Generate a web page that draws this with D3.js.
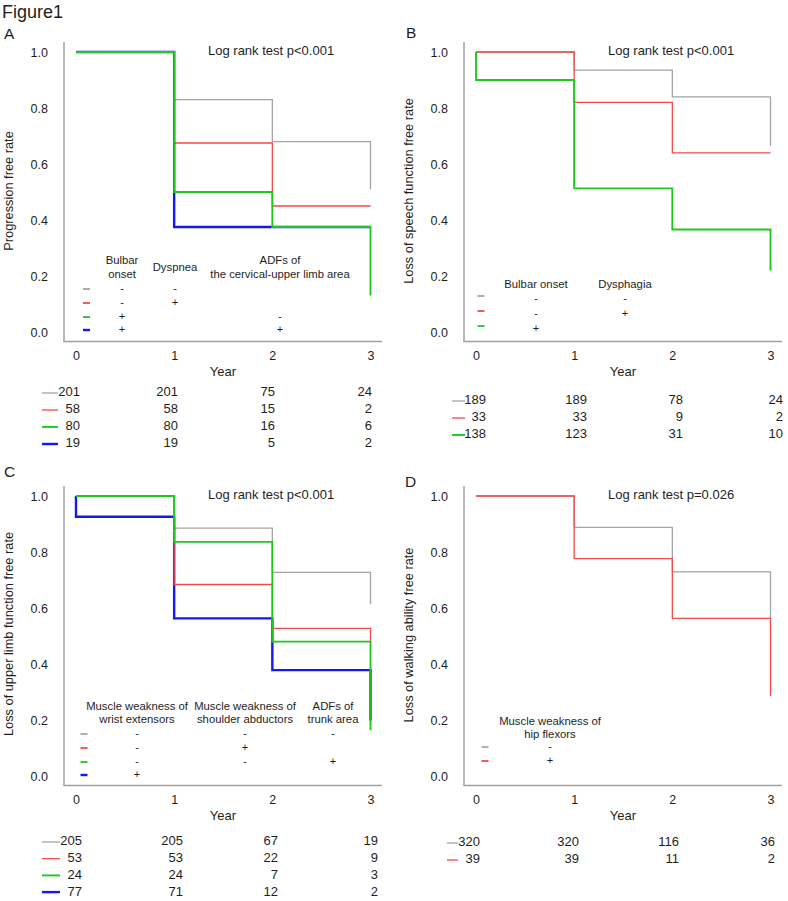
<!DOCTYPE html>
<html>
<head>
<meta charset="utf-8">
<script src="https://cdn.jsdelivr.net/npm/d3@7"></script>
<style>
  html, body { margin: 0; padding: 0; background: #fff; }
  svg { display: block; font-family: "Liberation Sans", Arial, sans-serif; }
</style>
</head>
<body>
<svg id="fig" width="788" height="901"></svg>
<script>
// ---------------- DATA ----------------
const years = [0, 1, 2, 3];
const yTicks = [0, 0.2, 0.4, 0.6, 0.8, 1.0];
const yearLabel = "Year";
const figTitle = "Figure1";

// Panel A
const aYLabel = "Progression free rate";
const aPText = "Log rank test p<0.001";
const aGroups = ["gray", "red", "green", "blue"];
const aSurv = [
  [1.0, 0.83, 0.68, 0.51],
  [1.0, 0.675, 0.45, 0.45],
  [1.0, 0.50, 0.375, 0.13],
  [1.0, 0.375, 0.375, 0.375]
];
const aRisk = [[201, 201, 75, 24], [58, 58, 15, 2], [80, 80, 16, 6], [19, 19, 5, 2]];
const aHeaders = [["Bulbar", "onset"], ["Dyspnea"], ["ADFs of", "the cervical-upper limb area"]];
const aSigns = [["-", "-", ""], ["-", "+", ""], ["+", "", "-"], ["+", "", "+"]];

// Panel B
const bYLabel = "Loss of speech function free rate";
const bPText = "Log rank test p<0.001";
const bGroups = ["gray", "red", "green"];
const bSurv = [
  [1.0, 0.935, 0.84, 0.665],
  [1.0, 0.82, 0.64, 0.64],
  [0.90, 0.513, 0.366, 0.22]
];
const bRisk = [[189, 189, 78, 24], [33, 33, 9, 2], [138, 123, 31, 10]];
const bHeaders = [["Bulbar onset"], ["Dysphagia"]];
const bSigns = [["-", "-"], ["-", "+"], ["+", ""]];

// Panel C
const cYLabel = "Loss of upper limb function free rate";
const cPText = "Log rank test p<0.001";
const cGroups = ["gray", "red", "green", "blue"];
const cSurv = [
  [1.0, 0.885, 0.727, 0.613],
  [1.0, 0.684, 0.527, 0.48],
  [1.0, 0.836, 0.48, 0.163],
  [0.926, 0.563, 0.378, 0.198]
];
const cRisk = [[205, 205, 67, 19], [53, 53, 22, 9], [24, 24, 7, 3], [77, 71, 12, 2]];
const cHeaders = [["Muscle weakness of", "wrist extensors"], ["Muscle weakness of", "shoulder abductors"], ["ADFs of", "trunk area"]];
const cSigns = [["-", "-", "-"], ["-", "+", ""], ["-", "-", "+"], ["+", "", ""]];

// Panel D
const dYLabel = "Loss of walking ability free rate";
const dPText = "Log rank test p=0.026";
const dGroups = ["gray", "red"];
const dSurv = [
  [1.0, 0.888, 0.729, 0.563],
  [1.0, 0.776, 0.563, 0.286]
];
const dRisk = [[320, 320, 116, 36], [39, 39, 11, 2]];
const dHeaders = [["Muscle weakness of", "hip flexors"]];
const dSigns = [["-"], ["+"]];

// ---------------- STYLE ----------------
const COLORS = { gray: "#a4a4a4", red: "#f24a4a", green: "#1fc81f", blue: "#1818ee" };
const WIDTHS = { gray: 1.3, red: 1.3, green: 1.9, blue: 2.4 };
const AXIS = "#a0a0a0";
const TXT = "#1e1e1e";

const svg = d3.select("#fig");

svg.append("text").attr("x", 2).attr("y", 13).attr("dominant-baseline", "middle")
  .attr("font-size", 18).attr("fill", TXT).text(figTitle);

function drawPanel(cfg) {
  const g = svg.append("g").attr("transform", `translate(${cfg.ox},${cfg.oy})`);
  const x = d3.scaleLinear().domain([0, 3]).range([76, 370.5]);
  const y = d3.scaleLinear().domain([0, 1]).range([332, 52]);

  g.append("text").attr("x", cfg.letterX).attr("y", cfg.letterY).attr("dominant-baseline", "middle")
    .attr("font-size", 15.5).attr("fill", TXT).text(cfg.letter);

  g.append("line").attr("x1", 64).attr("x2", 64).attr("y1", 42).attr("y2", 341.5)
    .attr("stroke", AXIS).attr("stroke-width", 1.5);
  g.append("line").attr("x1", 63.25).attr("x2", 382).attr("y1", 341.5).attr("y2", 341.5)
    .attr("stroke", AXIS).attr("stroke-width", 1.5);

  const yAxis = d3.axisLeft(y).tickValues(yTicks).tickFormat(d3.format(".1f")).tickSize(0).tickPadding(0);
  const ya = g.append("g").attr("transform", "translate(48,0)").call(yAxis);
  ya.select(".domain").remove();
  ya.selectAll("text").attr("font-size", 12.5).attr("fill", TXT).attr("font-family", "Liberation Sans, Arial, sans-serif");

  const xAxis = d3.axisBottom(x).tickValues(years).tickFormat(d3.format("d")).tickSize(0).tickPadding(0);
  const xa = g.append("g").attr("transform", "translate(0,351)").call(xAxis);
  xa.select(".domain").remove();
  xa.selectAll("text").attr("font-size", 12.5).attr("fill", TXT).attr("font-family", "Liberation Sans, Arial, sans-serif");

  g.append("text").attr("x", 223).attr("y", 373).attr("text-anchor", "middle").attr("dominant-baseline", "middle")
    .attr("font-size", 13).attr("fill", TXT).text(yearLabel);

  g.append("text").attr("transform", `translate(${10},${cfg.yLabelMid}) rotate(-90)`)
    .attr("text-anchor", "middle").attr("dominant-baseline", "middle")
    .attr("font-size", 12.8).attr("fill", TXT).text(cfg.yLabel);

  g.append("text").attr("x", 208).attr("y", y(1)).attr("dominant-baseline", "middle")
    .attr("font-size", 13).attr("fill", TXT).text(cfg.pText);

  const line = d3.line().x(d => x(d[0])).y(d => y(d[1]));
  cfg.order.forEach(i => {
    const s = cfg.surv[i];
    const pts = [[0, 1.0]];
    let prev = 1.0;
    years.forEach((t, k) => {
      pts.push([t, prev]);
      pts.push([t, s[k]]);
      prev = s[k];
    });
    const grp = cfg.groups[i];
    g.append("path").attr("d", line(pts)).attr("fill", "none")
      .attr("stroke", COLORS[grp]).attr("stroke-width", WIDTHS[grp]);
  });

  const L = cfg.legend;
  cfg.headers.forEach((lines, j) => {
    const n = lines.length;
    lines.forEach((ln, k) => {
      g.append("text").attr("x", L.colX[j]).attr("y", L.headMid + (k - (n - 1) / 2) * 13.5)
        .attr("text-anchor", "middle").attr("dominant-baseline", "middle")
        .attr("font-size", 11.3).attr("fill", TXT).text(ln);
    });
  });
  cfg.signs.forEach((row, r) => {
    const grp = cfg.groups[r];
    const yy = L.rows[r];
    g.append("line").attr("x1", L.dashX - 3.5).attr("x2", L.dashX + 3.5).attr("y1", yy).attr("y2", yy)
      .attr("stroke", COLORS[grp]).attr("stroke-width", grp === "blue" ? 2.4 : 1.8);
    row.forEach((sg, j) => {
      if (!sg) return;
      g.append("text").attr("x", L.colX[j]).attr("y", yy + L.signDy)
        .attr("text-anchor", "middle").attr("dominant-baseline", "middle")
        .attr("font-size", 11).attr("fill", TXT).text(sg);
    });
  });

  const T = cfg.table;
  cfg.risk.forEach((row, r) => {
    const grp = cfg.groups[r];
    const yy = T.y0 + r * T.dy;
    g.append("line").attr("x1", T.dash[0]).attr("x2", T.dash[1]).attr("y1", yy).attr("y2", yy)
      .attr("stroke", COLORS[grp]).attr("stroke-width", WIDTHS[grp]);
    row.forEach((v, k) => {
      g.append("text").attr("x", T.cols[k]).attr("y", yy).attr("text-anchor", "end")
        .attr("dominant-baseline", "middle").attr("font-size", 13).attr("fill", TXT).text(v);
    });
  });
}

drawPanel({
  ox: 0, oy: 0, letter: "A", letterX: 4, letterY: 35, yLabel: aYLabel, yLabelMid: 191, pText: aPText,
  groups: aGroups, surv: aSurv, risk: aRisk, headers: aHeaders, signs: aSigns, order: [0, 1, 3, 2],
  legend: { colX: [122, 175, 280], headMid: 268, rows: [289, 303, 317, 330], dashX: 86.5, signDy: 0 },
  table: { y0: 393, dy: 17, dash: [42, 58], cols: [80, 178, 275, 372] }
});
drawPanel({
  ox: 400, oy: 0, letter: "B", letterX: 6, letterY: 34, yLabel: bYLabel, yLabelMid: 191, pText: bPText,
  groups: bGroups, surv: bSurv, risk: bRisk, headers: bHeaders, signs: bSigns, order: [0, 1, 2],
  legend: { colX: [136, 225], headMid: 285, rows: [296, 311, 326], dashX: 81, signDy: 3 },
  table: { y0: 401, dy: 17, dash: [52, 65], cols: [86, 187, 283, 383] }
});
drawPanel({
  ox: 0, oy: 444, letter: "C", letterX: 4, letterY: 29, yLabel: cYLabel, yLabelMid: 190, pText: cPText,
  groups: cGroups, surv: cSurv, risk: cRisk, headers: cHeaders, signs: cSigns, order: [0, 3, 1, 2],
  legend: { colX: [137, 245, 333], headMid: 269.5, rows: [290, 304, 318, 331], dashX: 84, signDy: 0 },
  table: { y0: 398, dy: 16.7, dash: [42, 60], cols: [82, 183, 278, 378] }
});
drawPanel({
  ox: 400, oy: 444, letter: "D", letterX: 5, letterY: 39, yLabel: dYLabel, yLabelMid: 191, pText: dPText,
  groups: dGroups, surv: dSurv, risk: dRisk, headers: dHeaders, signs: dSigns, order: [0, 1],
  legend: { colX: [150], headMid: 284.5, rows: [303, 317], dashX: 85, signDy: 0 },
  table: { y0: 399, dy: 17, dash: [47, 58], cols: [80, 179, 279, 375] }
});
</script>
</body>
</html>
